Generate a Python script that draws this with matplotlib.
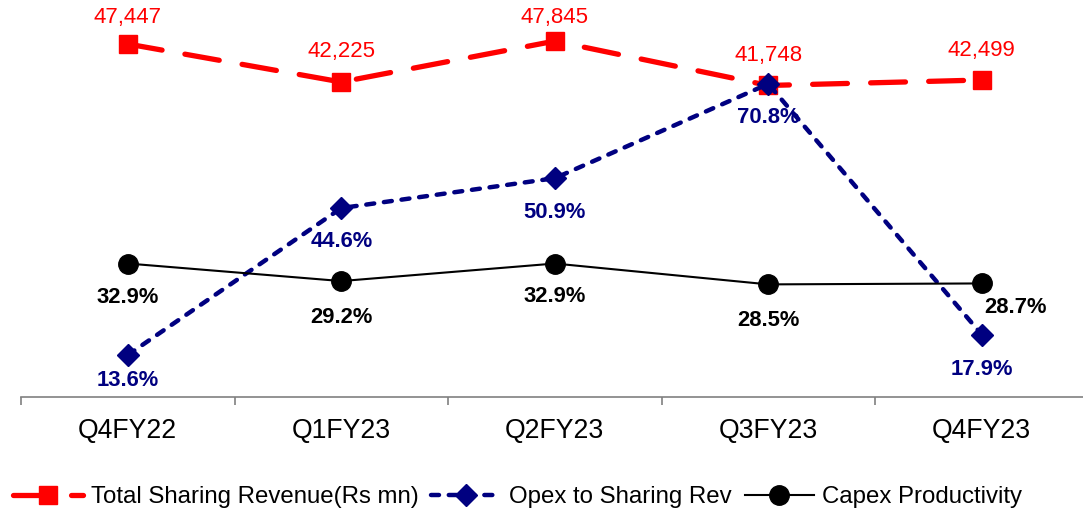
import numpy as np
import matplotlib.pyplot as plt
from matplotlib.lines import Line2D

plt.rcParams['font.family'] = ['Liberation Sans', 'DejaVu Sans']

quarters = ['Q4FY22', 'Q1FY23', 'Q2FY23', 'Q3FY23', 'Q4FY23']
revenue = [47447, 42225, 47845, 41748, 42499]
opex_pct = [13.6, 44.6, 50.9, 70.8, 17.9]
capex_pct = [32.9, 29.2, 32.9, 28.5, 28.7]

red = '#ff0000'
navy = '#000080'
px = 0.72  # pixels -> points at 100 dpi

fig = plt.figure(figsize=(10.83, 5.12), dpi=100)
ax = fig.add_axes([21 / 1083, 115 / 512, 1 - 21 / 1083, 397 / 512])
ax2 = ax.twinx()
ax2.set_zorder(ax.get_zorder() - 1)
ax.patch.set_visible(False)

x = np.arange(len(quarters))

red_style = dict(color=red, lw=3.8, ls=(0, (6.6, 4.4)), marker='s', ms=12.5,
                 dash_capstyle='round')
navy_style = dict(color=navy, lw=3.2, ls=(0, (1.8, 2.2)), marker='D', ms=11.5,
                  dash_capstyle='round')
black_style = dict(color='black', lw=1.5, marker='o', ms=14)

ax2.plot(x, revenue, **red_style)
ax.plot(x, opex_pct, **navy_style)
ax.plot(x, capex_pct, **black_style)

ax.set_xlim(-0.5, 4.474)
ax.set_ylim(4.74, 88.5)
ax2.set_ylim(-1056, 53492)

rev_dy = [26, 31, 24, 30, 30]
for i, v in enumerate(revenue):
    ax2.annotate(f'{v:,}', (i, v), xytext=(0, rev_dy[i] * px), textcoords='offset points',
                 ha='center', va='center', color=red, fontsize=16)

opex_dy = [-25, -33, -34, -34, -35]
for i, v in enumerate(opex_pct):
    ax.annotate(f'{v:.1f}%', (i, v), xytext=(0, opex_dy[i] * px), textcoords='offset points',
                ha='center', va='center', color=navy, fontsize=15.8, fontweight='bold')

capex_off = [(0, -34), (0, -36), (0, -33), (0, -36), (34, -24)]
for i, v in enumerate(capex_pct):
    dx, dy = capex_off[i]
    ax.annotate(f'{v:.1f}%', (i, v), xytext=(dx * px, dy * px), textcoords='offset points',
                ha='center', va='center', color='black', fontsize=15.8, fontweight='bold')

for s in ['top', 'right', 'left']:
    ax.spines[s].set_visible(False)
    ax2.spines[s].set_visible(False)
ax2.spines['bottom'].set_visible(False)
ax.spines['bottom'].set_color('#808080')
ax.spines['bottom'].set_linewidth(1.2)

ax.set_yticks([])
ax2.set_yticks([])
ax.set_xticks(x)
ax.set_xticklabels(quarters, fontsize=19.2)
ax.tick_params(axis='x', which='major', length=0, pad=15)
ax.set_xticks(np.arange(-0.5, 4.5, 1), minor=True)
ax.tick_params(axis='x', which='minor', length=6, color='#808080', width=1.2)

handles = [Line2D([], [], **red_style), Line2D([], [], **navy_style),
           Line2D([], [], **black_style)]
labels = ['Total Sharing Revenue(Rs mn)', 'Opex to Sharing Rev', 'Capex Productivity']
fig.legend(handles, labels, loc='center', bbox_to_anchor=(0.478, 15 / 512),
           ncol=3, frameon=False, fontsize=17.3, handlelength=2.9,
           handletextpad=0.33, columnspacing=0.54)

fig.savefig('out.png', dpi=100)
